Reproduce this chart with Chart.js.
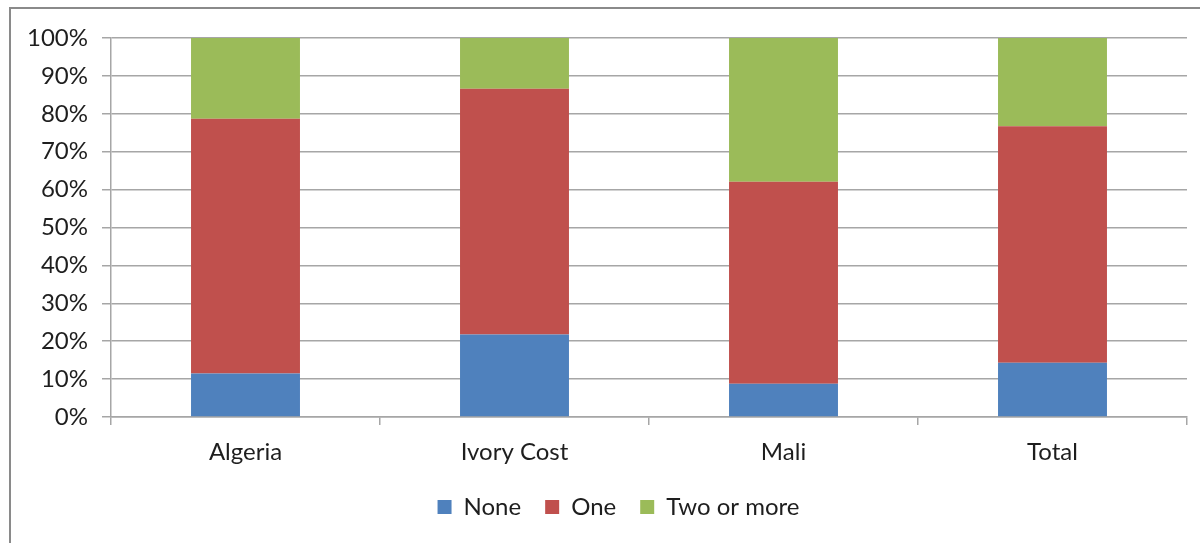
<!DOCTYPE html>
<html>
<head>
<meta charset="utf-8">
<script src="https://cdn.jsdelivr.net/npm/chart.js@4"></script>
<style>
  html, body { margin: 0; padding: 0; background: #fff; }
  #wrap { position: relative; width: 1200px; height: 543px; overflow: hidden; }
  #frame { position: absolute; left: 9px; top: 7px; width: 1300px; height: 700px; border: 2px solid #8a8a8a; box-sizing: border-box; }
  #chart-box { position: absolute; left: 0; top: 0; width: 1200px; height: 543px; }
</style>
</head>
<body>
<div id="wrap">
  <div id="frame"></div>
  <div id="chart-box"><canvas id="myChart"></canvas></div>
</div>
<script>
// share of households (%) by country
const countries = ["Algeria", "Ivory Cost", "Mali", "Total"]
const noneShare = [11.5, 21.8, 8.8, 14.3]
const oneShare = [67.2, 64.8, 53.3, 62.4]
const twoOrMoreShare = [21.3, 13.4, 37.9, 23.3]
const yTicks = [0, 10, 20, 30, 40, 50, 60, 70, 80, 90, 100]

const textColor = "#1e1e1e"
const gridColor = "#a6a6a6"

document.addEventListener("DOMContentLoaded", () => {
  renderChart()
})

function makeDataset(label, values, color) {
  return {
    label: label,
    data: values,
    backgroundColor: color,
    borderWidth: 0,
    barPercentage: 0.405,
    categoryPercentage: 1.0
  }
}

// the legend sits a bit right of centre in the original
const shiftLegend = {
  id: "shiftLegend",
  afterLayout(chart) {
    chart.legend.left += 25
    chart.legend.right += 25
  }
}

function renderChart() {
  let ctx = document.getElementById("myChart").getContext("2d")
  Chart.defaults.font.family = "Lato, 'Open Sans', sans-serif"
  Chart.defaults.color = textColor
  new Chart(ctx, {
    type: "bar",
    data: {
      labels: countries,
      datasets: [
        makeDataset("None", noneShare, "#4f81bd"),
        makeDataset("One", oneShare, "#c0504d"),
        makeDataset("Two or more", twoOrMoreShare, "#9bbb59")
      ]
    },
    plugins: [shiftLegend],
    options: {
      responsive: true,
      maintainAspectRatio: false,
      animation: false,
      layout: { padding: { left: 0, right: 13, top: 38, bottom: 14 } },
      plugins: {
        tooltip: { enabled: false },
        legend: {
          position: "bottom",
          labels: {
            boxWidth: 14,
            boxHeight: 14,
            padding: 24,
            font: { size: 24 },
            color: textColor
          }
        }
      },
      scales: {
        x: {
          stacked: true,
          grid: {
            display: true,
            drawOnChartArea: false,
            offset: true,
            tickLength: 8,
            color: gridColor,
            lineWidth: 1.5
          },
          border: { color: gridColor, width: 1.5 },
          ticks: { font: { size: 24 }, color: textColor, padding: 13 },
          afterFit: (scale) => { scale.height = 54 }
        },
        y: {
          stacked: true,
          min: 0,
          max: 100,
          afterBuildTicks: (scale) => { scale.ticks = yTicks.map(v => ({ value: v })) },
          grid: {
            color: gridColor,
            lineWidth: 1.5,
            tickLength: 9
          },
          border: { color: gridColor, width: 1.5 },
          ticks: {
            font: { size: 24 },
            color: textColor,
            padding: 14,
            callback: (v) => v + "%"
          },
          afterFit: (scale) => { scale.width = 111 }
        }
      }
    }
  })
}
</script>
</body>
</html>
